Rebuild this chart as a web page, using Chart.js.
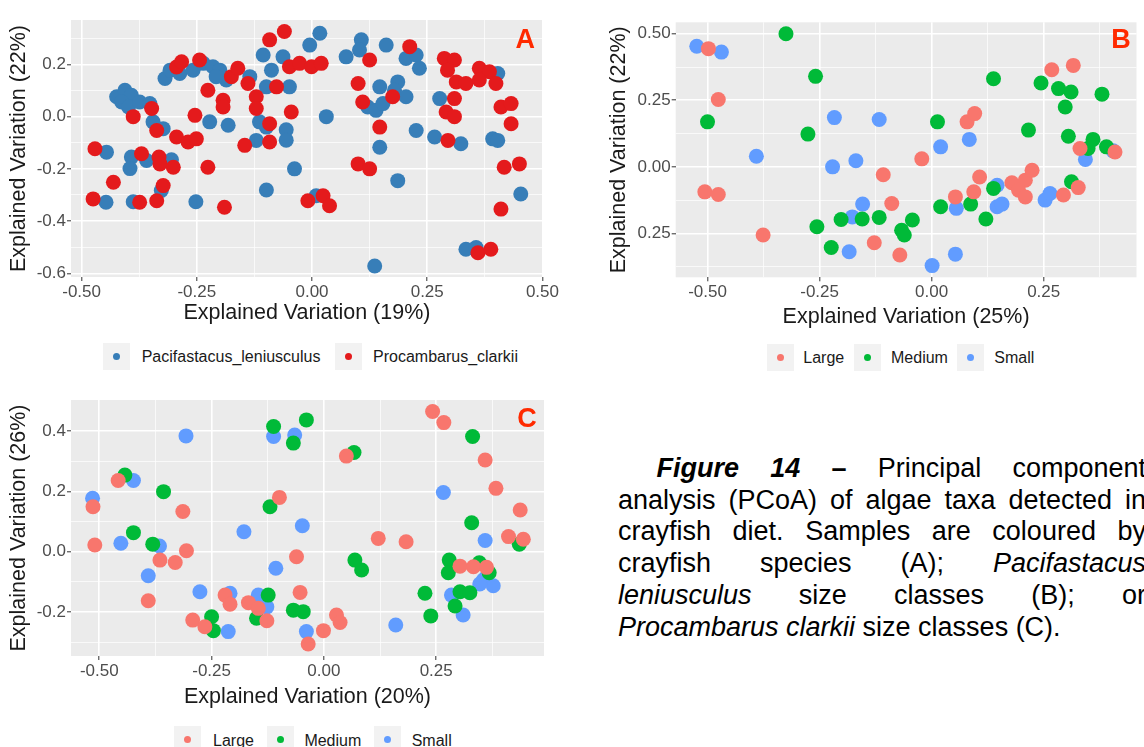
<!DOCTYPE html>
<html lang="en">
<head>
<meta charset="UTF-8">
<title>PCoA of algae taxa in crayfish diet</title>
<script src="https://cdn.jsdelivr.net/npm/chart.js"></script>
<style>
    body { margin: 0; width: 1144px; height: 747px; overflow: hidden; background: #fff; position: relative;
           font-family: "Liberation Sans", Arial, sans-serif; }
    canvas { position: absolute; }
    .key { position: absolute; width: 27px; height: 27px; background: #F2F2F2; }
    .key span { position: absolute; left: 10px; top: 10px; width: 7px; height: 7px; border-radius: 50%; }
    .lab { position: absolute; height: 27px; line-height: 27px; font-size: 16px; color: #1A1A1A; white-space: nowrap; }
    .caption { position: absolute; left: 618px; top: 453px; width: 528px; font-size: 27px; line-height: 31.7px;
               text-align: justify; text-indent: 38.5px; color: #000; }
</style>
</head>
<body>
<canvas id="chartA" width="560" height="330" style="left:0;top:0"></canvas>
<canvas id="chartB" width="544" height="330" style="left:600px;top:0"></canvas>
<canvas id="chartC" width="560" height="340" style="left:0;top:380px"></canvas>

<!-- legends (ggplot style keys) -->
<div class="key" style="left:103px;top:343px"><span style="background:#377EB8"></span></div>
<div class="lab" style="left:141.7px;top:343px">Pacifastacus_leniusculus</div>
<div class="key" style="left:335px;top:343px"><span style="background:#E41A1C"></span></div>
<div class="lab" style="left:373px;top:343px">Procambarus_clarkii</div>

<div class="key" style="left:766.7px;top:344.3px"><span style="background:#F8766D"></span></div>
<div class="lab" style="left:803.3px;top:344.3px">Large</div>
<div class="key" style="left:854.3px;top:344.3px"><span style="background:#00BA38"></span></div>
<div class="lab" style="left:891px;top:344.3px">Medium</div>
<div class="key" style="left:956.7px;top:344.3px"><span style="background:#619CFF"></span></div>
<div class="lab" style="left:994.3px;top:344.3px">Small</div>

<div class="key" style="left:173.6px;top:726px"><span style="background:#F8766D"></span></div>
<div class="lab" style="left:213px;top:727px">Large</div>
<div class="key" style="left:266.7px;top:726px"><span style="background:#00BA38"></span></div>
<div class="lab" style="left:304.4px;top:727px">Medium</div>
<div class="key" style="left:374.1px;top:726px"><span style="background:#619CFF"></span></div>
<div class="lab" style="left:411.7px;top:727px">Small</div>

<div class="caption"><b><i>Figure 14</i> –</b> Principal component analysis (PCoA) of algae taxa detected in crayfish diet. Samples are coloured by crayfish species (A); <i>Pacifastacus leniusculus</i> size classes (B); or <i>Procambarus clarkii</i> size classes (C).</div>

<script>
// ---- data: [x, y] per sample ----
// A: by species
const paPacifastacus = [
    [-0.446,-0.136],[-0.392,-0.155],[-0.395,-0.199],[-0.447,-0.328],[-0.388,-0.326],[-0.359,-0.168],
    [-0.305,-0.165],[-0.327,-0.283],[-0.252,-0.326],[-0.424,0.076],[-0.406,0.101],[-0.392,0.082],
    [-0.413,0.056],[-0.398,0.037],[-0.374,0.056],[-0.352,0.05],[-0.345,-0.02],[-0.323,-0.046],
    [-0.319,0.146],[-0.308,0.178],[-0.287,0.165],[-0.258,0.178],[-0.236,0.204],[-0.215,0.191],
    [-0.2,0.178],[-0.186,0.14],[-0.208,0.153],[-0.222,-0.02],[-0.182,-0.033],[-0.135,0.153],
    [-0.106,0.236],[-0.088,0.178],[-0.099,0.114],[-0.049,0.114],[-0.063,0.229],[-0.114,-0.02],
    [-0.099,-0.04],[-0.121,-0.091],[-0.056,-0.05],[-0.056,-0.09],[-0.038,-0.2],[-0.099,-0.281],
    [-0.005,0.274],[0.017,0.319],[0.031,0],[0.009,-0.303],[0.074,0.229],[0.107,0.294],
    [0.103,0.255],[0.161,0.274],[0.147,0.114],[0.121,0.037],[0.139,0.024],[0.154,0.05],
    [0.186,0.133],[0.179,0.101],[0.204,0.076],[0.204,0.223],[0.226,0.236],[0.233,0.185],
    [0.147,-0.117],[0.226,-0.053],[0.186,-0.245],[0.266,-0.078],[0.277,0.069],[0.323,-0.104],
    [0.392,-0.085],[0.403,-0.091],[0.403,0.165],[0.453,-0.296],[0.136,-0.572],[0.334,-0.508],
    [0.356,-0.501]
];
const paProcambarus = [
    [-0.471,-0.123],[-0.475,-0.315],[-0.431,-0.251],[-0.374,-0.328],[-0.37,-0.142],[-0.388,0],
    [-0.348,0.031],[-0.337,-0.053],[-0.337,-0.322],[-0.332,-0.155],[-0.33,-0.181],[-0.323,-0.264],
    [-0.301,-0.194],[-0.294,-0.078],[-0.294,0.19],[-0.283,0.21],[-0.269,-0.097],[-0.251,-0.085],
    [-0.254,0.005],[-0.244,0.217],[-0.226,0.101],[-0.226,-0.194],[-0.193,0.063],[-0.193,0.037],
    [-0.175,0.153],[-0.19,-0.347],[-0.161,0.185],[-0.146,-0.11],[-0.139,0.127],[-0.121,0.076],
    [-0.121,0.031],[-0.092,-0.027],[-0.092,-0.097],[-0.077,0.114],[-0.092,0.294],[-0.06,0.326],
    [-0.049,0.191],[-0.045,0.018],[-0.027,0.204],[-0.001,0.191],[0.02,0.204],[0.1,0.127],
    [0.11,0.056],[0.125,0.217],[0.147,-0.04],[0.175,0.076],[0.212,0.268],[0.1,-0.181],
    [0.125,-0.2],[-0.009,-0.322],[0.024,-0.303],[0.038,-0.341],[0.287,0.223],[0.309,0.217],
    [0.294,0.178],[0.313,0.133],[0.334,0.127],[0.309,0.069],[0.291,0.018],[0.309,0],
    [0.295,-0.091],[0.363,0.185],[0.385,0.172],[0.363,0.14],[0.399,0.127],[0.41,0.037],
    [0.432,0.05],[0.432,-0.027],[0.417,-0.194],[0.45,-0.181],[0.41,-0.354],[0.36,-0.521],
    [0.388,-0.508]
];
// B: Pacifastacus leniusculus size classes
const pbLarge = [
    [-0.498,0.444],[-0.476,0.253],[-0.506,-0.094],[-0.476,-0.104],[-0.376,-0.256],[-0.128,-0.285],
    [-0.108,-0.03],[-0.022,0.03],[-0.089,-0.138],[-0.071,-0.331],[0.079,0.169],[0.096,0.2],
    [0.053,-0.113],[0.094,-0.094],[0.107,-0.038],[0.179,-0.06],[0.209,-0.05],[0.224,-0.013],
    [0.194,-0.088],[0.209,-0.113],[0.294,-0.106],[0.327,-0.078],[0.268,0.365],[0.316,0.381],
    [0.331,0.069],[0.409,0.056]
];
const pbMedium = [
    [-0.325,0.5],[-0.259,0.34],[-0.5,0.169],[-0.276,0.123],[-0.256,-0.225],[-0.224,-0.303],
    [-0.202,-0.198],[-0.155,-0.196],[-0.117,-0.19],[-0.043,-0.2],[-0.067,-0.238],[-0.061,-0.256],
    [0.013,0.169],[0.138,0.331],[0.216,0.138],[0.244,0.315],[0.283,0.294],[0.311,0.281],
    [0.298,0.225],[0.38,0.273],[0.305,0.115],[0.36,0.103],[0.349,0.069],[0.39,0.075],
    [0.02,-0.15],[0.087,-0.14],[0.121,-0.196],[0.138,-0.081],[0.312,-0.056]
];
const pbSmall = [
    [-0.524,0.453],[-0.469,0.431],[-0.391,0.04],[-0.217,0.185],[-0.117,0.178],[-0.221,0],
    [-0.169,0.023],[-0.154,-0.14],[-0.177,-0.188],[-0.184,-0.319],[0.02,0.075],[0.084,0.103],
    [0.055,-0.156],[0.146,-0.069],[0.146,-0.15],[0.157,-0.14],[0.253,-0.125],[0.264,-0.1],
    [0.343,0.028],[0.001,-0.371],[0.053,-0.328],[0.405,0.06]
];
// C: Procambarus clarkii size classes
const pcLarge = [
    [-0.514,0.149],[-0.51,0.022],[-0.458,0.236],[-0.391,-0.163],[-0.365,-0.028],[-0.331,-0.036],
    [-0.306,0.003],[-0.314,0.133],[-0.292,-0.227],[-0.265,-0.249],[-0.22,-0.144],[-0.209,-0.174],
    [-0.168,-0.169],[-0.146,-0.188],[-0.127,-0.229],[-0.099,0.18],[-0.061,-0.017],[-0.053,-0.135],
    [-0.035,-0.306],[-0.001,-0.262],[0.028,-0.21],[0.036,-0.235],[0.05,0.317],[0.121,0.044],
    [0.183,0.033],[0.242,0.465],[0.267,0.428],[0.359,0.304],[0.383,0.21],[0.437,0.138],
    [0.411,0.05],[0.444,0.041],[0.303,-0.048],[0.333,-0.05],[0.362,-0.052]
];
const pcMedium = [
    [-0.443,0.254],[-0.424,0.063],[-0.381,0.025],[-0.357,0.199],[-0.25,-0.216],[-0.246,-0.262],
    [-0.15,-0.221],[-0.124,-0.144],[-0.12,0.149],[-0.112,0.415],[-0.068,0.36],[-0.039,0.437],
    [0.067,0.329],[0.069,-0.028],[0.084,-0.061],[-0.068,-0.194],[-0.046,-0.199],[0.331,0.382],
    [0.329,0.096],[0.435,0.025],[0.225,-0.138],[0.238,-0.213],[0.279,-0.028],[0.277,-0.07],
    [0.303,-0.133],[0.325,-0.136],[0.292,-0.18],[0.346,-0.037],[0.368,-0.07]
];
const pcSmall = [
    [-0.515,0.177],[-0.452,0.028],[-0.424,0.236],[-0.391,-0.08],[-0.366,0.019],[-0.307,0.384],
    [-0.276,-0.133],[-0.209,-0.138],[-0.213,-0.265],[-0.178,0.066],[-0.146,-0.144],[-0.127,-0.183],
    [-0.112,0.382],[-0.107,-0.055],[-0.065,0.387],[-0.048,0.086],[-0.039,-0.265],[0.266,0.196],
    [0.359,0.037],[0.16,-0.243],[0.31,-0.21],[0.284,-0.144],[0.355,-0.094],[0.362,-0.083],
    [0.377,-0.113],[0.347,-0.107]
];

// ---- axis breaks ----
const aXMajor = [-0.5, -0.25, 0, 0.25, 0.5], aXMinor = [-0.375, -0.125, 0.125, 0.375];
const aYMajor = [-0.6, -0.4, -0.2, 0, 0.2],  aYMinor = [-0.5, -0.3, -0.1, 0.1, 0.3];
const bXMajor = [-0.5, -0.25, 0, 0.25],      bXMinor = [-0.375, -0.125, 0.125, 0.375];
const bYMajor = [-0.25, 0, 0.25, 0.5],       bYMinor = [-0.375, -0.125, 0.125, 0.375];
const cXMajor = [-0.5, -0.25, 0, 0.25],      cXMinor = [-0.375, -0.125, 0.125, 0.375];
const cYMajor = [-0.2, 0, 0.2, 0.4],         cYMinor = [-0.3, -0.1, 0.1, 0.3];

const FONT = '"Liberation Sans", Arial, sans-serif';

// grey panel behind the grid
const panelBg = {
    id: 'panelBg',
    beforeDraw(chart) {
        const a = chart.chartArea, ctx = chart.ctx;
        ctx.save();
        ctx.fillStyle = '#EBEBEB';
        ctx.fillRect(a.left, a.top, a.right - a.left, a.bottom - a.top);
        ctx.restore();
    }
};

// red panel letter in the top-right corner
const panelTag = {
    id: 'panelTag',
    afterDatasetsDraw(chart, args, opts) {
        const a = chart.chartArea, ctx = chart.ctx;
        ctx.save();
        ctx.font = 'bold 27px ' + FONT;
        ctx.fillStyle = '#FF2A00';
        ctx.textAlign = 'right';
        ctx.textBaseline = 'alphabetic';
        ctx.fillText(opts.text, a.right - opts.dx, a.top + opts.dy);
        ctx.restore();
    }
};

function axis(pos, range, major, minor, fmt, title, size, titlePad) {
    const isMajor = v => major.some(m => Math.abs(m - v) < 1e-9);
    return {
        type: 'linear', position: pos, min: range[0], max: range[1],
        afterBuildTicks: s => { s.ticks = major.concat(minor).sort((p, q) => p - q).map(v => ({ value: v })); },
        afterFit: s => { if (pos === 'bottom') s.height = size; else s.width = size; },
        ticks: { autoSkip: false, maxRotation: 0, padding: 1, color: '#4D4D4D',
                 font: { family: FONT, size: 17 }, callback: v => isMajor(v) ? fmt(v) : '' },
        grid: { color: '#FFFFFF', tickLength: 4, tickWidth: 1,
                lineWidth: c => (c.tick && isMajor(c.tick.value)) ? 1.6 : 0.7,
                tickColor: c => (c.tick && isMajor(c.tick.value)) ? '#333333' : 'rgba(0,0,0,0)' },
        border: { display: false },
        title: { display: true, text: title, color: '#1A1A1A', font: { family: FONT, size: 21.5 }, padding: titlePad }
    };
}

function scatter(id, groups, pad, xAxis, yAxis, tag) {
    return new Chart(document.getElementById(id), {
        type: 'scatter',
        data: {
            datasets: groups.map(g => ({
                label: g.name,
                data: g.points.map(p => ({ x: p[0], y: p[1] })),
                backgroundColor: g.color, pointRadius: 7.5, pointHoverRadius: 7.5, borderWidth: 0
            }))
        },
        options: {
            responsive: false, animation: false, devicePixelRatio: 1,
            layout: { padding: pad },
            plugins: { legend: { display: false }, tooltip: { enabled: false }, panelTag: tag },
            scales: { x: xAxis, y: yAxis }
        },
        plugins: [panelBg, panelTag]
    });
}

const f2 = v => v.toFixed(2), f1 = v => v.toFixed(1);

scatter('chartA',
    [{ name: 'Procambarus_clarkii', points: paProcambarus, color: '#E41A1C' },
     { name: 'Pacifastacus_leniusculus', points: paPacifastacus, color: '#377EB8' }],
    { top: 20, right: 17, left: 0, bottom: 0 },
    axis('bottom', [-0.523, 0.501], aXMajor, aXMinor, f2, 'Explained Variation (19%)', 53, { top: 0, bottom: 4 }),
    axis('left', [-0.614, 0.37], aYMajor, aYMinor, f1, 'Explained Variation (22%)', 71, { top: 6.6, bottom: 0 }),
    { text: 'A', dx: 8, dy: 28.3 });

scatter('chartB',
    [{ name: 'Large', points: pbLarge, color: '#F8766D' },
     { name: 'Medium', points: pbMedium, color: '#00BA38' },
     { name: 'Small', points: pbSmall, color: '#619CFF' }],
    { top: 22.3, right: 6, left: 0, bottom: 0 },
    axis('bottom', [-0.571, 0.457], bXMajor, bXMinor, f2, 'Explained Variation (25%)', 52.7, { top: 0, bottom: 0.4 }),
    axis('left', [-0.415, 0.543], bYMajor, bYMinor, v => Math.abs(v).toFixed(2), 'Explained Variation (22%)', 75.7, { top: 6.1, bottom: 0 }),
    { text: 'B', dx: 5.7, dy: 26 });

scatter('chartC',
    [{ name: 'Large', points: pcLarge, color: '#F8766D' },
     { name: 'Medium', points: pcMedium, color: '#00BA38' },
     { name: 'Small', points: pcSmall, color: '#619CFF' }],
    { top: 20, right: 16, left: 0, bottom: 0 },
    axis('bottom', [-0.563, 0.49], cXMajor, cXMinor, f2, 'Explained Variation (20%)', 64, { top: 0, bottom: 10.1 }),
    axis('left', [-0.346, 0.503], cYMajor, cYMinor, f1, 'Explained Variation (26%)', 71, { top: 6.6, bottom: 0 }),
    { text: 'C', dx: 7.3, dy: 26.7 });
</script>
</body>
</html>
